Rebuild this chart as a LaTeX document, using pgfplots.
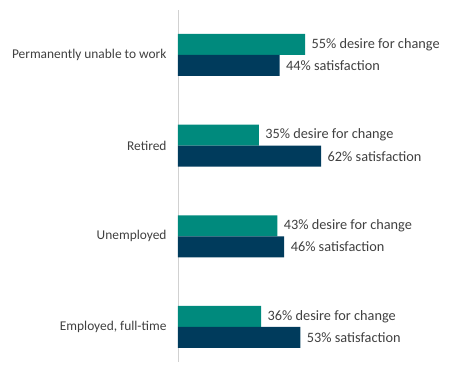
\documentclass[border=0pt]{standalone}
\usepackage{pgfplots}
\pgfplotsset{compat=1.18}
\usepackage{fontspec}
\setmainfont{Carlito}
\definecolor{teal1}{HTML}{008A7D}
\definecolor{navy1}{HTML}{003B5C}
\definecolor{txt}{HTML}{404040}
\begin{document}
\begin{tikzpicture}
\useasboundingbox (-178pt,-18pt) rectangle (272pt,362pt);
\begin{axis}[
  at={(0pt,0pt)}, anchor=south west,
  scale only axis, width=270pt, height=352pt,
  xmin=0, xmax=116.9, ymin=-0.386, ymax=3.496,
  xbar, bar width=21pt,
  axis x line=none, axis y line=left,
  y axis line style={-, draw=black!18, line width=0.8pt},
  ytick={0,1,2,3},
  yticklabels={{Employed, full-time}, Unemployed, Retired, Permanently unable to work},
  major tick length=0pt,
  yticklabel style={font=\fontsize{13.4}{15}\selectfont, text=txt, xshift=-8pt},
  clip=false,
  nodes near coords, point meta=explicit symbolic,
  every node near coord/.append style={font=\fontsize{14.3}{16}\selectfont, text=txt, anchor=west, xshift=3pt},
]
\addplot[fill=teal1, draw=none, bar shift=10.5pt] coordinates {
  (36,0) [36\% desire for change]
  (43,1) [43\% desire for change]
  (35,2) [35\% desire for change]
  (55,3) [55\% desire for change]
};
\addplot[fill=navy1, draw=none, bar shift=-10.5pt] coordinates {
  (53,0) [53\% satisfaction]
  (46,1) [46\% satisfaction]
  (62,2) [62\% satisfaction]
  (44,3) [44\% satisfaction]
};
\end{axis}
\end{tikzpicture}
\end{document}
